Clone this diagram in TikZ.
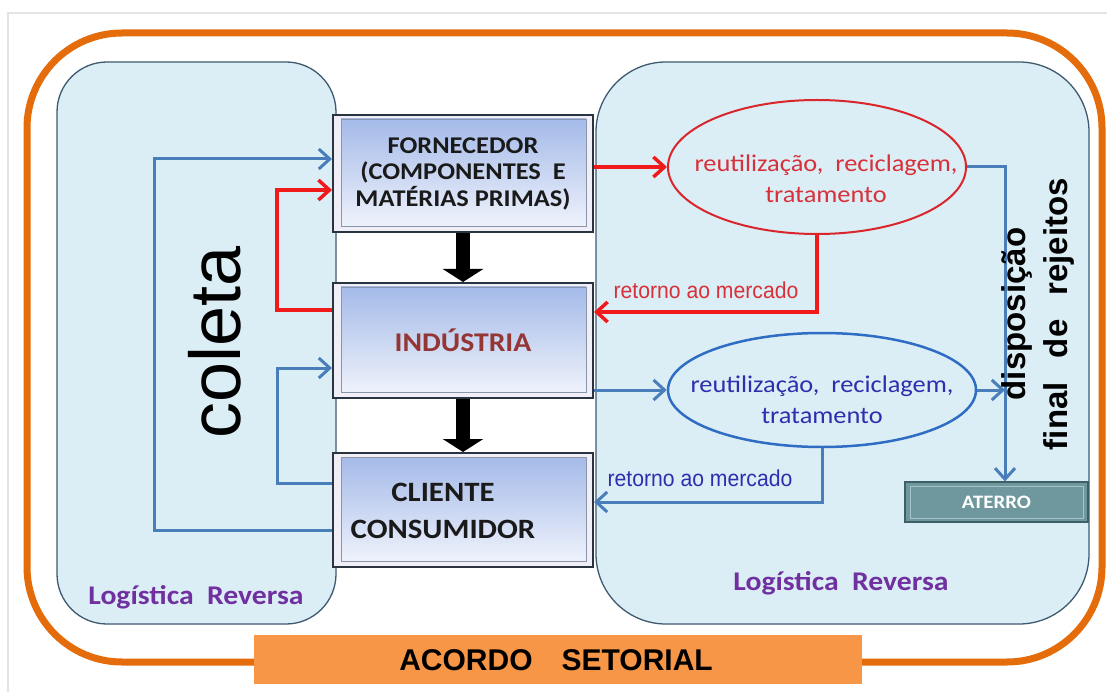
\documentclass[tikz,border=0pt]{standalone}
\usepackage{fontspec}
\setmainfont{Liberation Sans}
\newfontfamily\calfont{Carlito}[FakeStretch=1.1]
\newfontfamily\arialfont{Liberation Sans}
\newfontfamily\narrowfont{Liberation Sans}[FakeStretch=0.92]
\usetikzlibrary{arrows.meta,shapes.geometric}

\definecolor{framegray}{HTML}{E4E4E4}
\definecolor{orangeline}{HTML}{E46C0A}
\definecolor{barfill}{HTML}{F79646}
\definecolor{panelfill}{HTML}{DCEEF5}
\definecolor{panelline}{HTML}{3E5970}
\definecolor{blueline}{HTML}{4A7EBB}
\definecolor{redline}{HTML}{F01A1A}
\definecolor{redell}{HTML}{D9252B}
\definecolor{redtext}{HTML}{D8303A}
\definecolor{blueell}{HTML}{2F6DC4}
\definecolor{bluetext}{HTML}{2E2EAE}
\definecolor{boxedge}{HTML}{2A3440}
\definecolor{boxfill}{HTML}{F0EEF6}
\definecolor{gradtop}{HTML}{A2B8E8}
\definecolor{gradbot}{HTML}{F2F5FC}
\definecolor{innerline}{HTML}{8A96A8}
\definecolor{industria}{HTML}{943634}
\definecolor{purpletext}{HTML}{7030A0}
\definecolor{aterrofill}{HTML}{6E989D}
\definecolor{aterroedge}{HTML}{3F5F66}
\definecolor{aterroinner}{HTML}{A9C4C8}
\definecolor{boxtext}{HTML}{1A1A1A}

\begin{document}
\begin{tikzpicture}[x=1pt,y=-1pt,
  panel/.style={fill=panelfill,draw=panelline,line width=1.3pt},
  procbox/.style={draw=boxedge,line width=2pt,fill=boxfill,
    minimum width=260pt,inner sep=0pt,
    font=\calfont\bfseries\fontsize{24}{26.5}\selectfont,
    text=boxtext,align=center,
    path picture={
      \shadedraw[top color=gradtop,bottom color=gradbot,draw=innerline,line width=0.9pt]
        ([xshift=8pt,yshift=-4pt]path picture bounding box.north west)
        rectangle ([xshift=-7pt,yshift=6pt]path picture bounding box.south east);}},
  bluearr/.style={draw=blueline,line width=3pt,
    -{Straight Barb[length=11pt 0,width=20pt 0]}},
  redarr/.style={draw=redline,line width=3.5pt,
    -{Straight Barb[length=11pt 0,width=20pt 0]}},
  bigarr/.style={draw=black,line width=14pt,
    -{Triangle[length=13pt 0,width=40pt 0]}},
  elltext/.style={font=\calfont\fontsize{24}{31}\selectfont,align=center,inner sep=0pt},
  marketlabel/.style={font=\narrowfont\fontsize{23}{26}\selectfont,inner sep=0pt},
  reversa/.style={font=\calfont\bfseries\fontsize{27}{30}\selectfont,text=purpletext,inner sep=0pt},
  vertlabel/.style={font=\arialfont\bfseries\fontsize{33}{40}\selectfont,rotate=90,anchor=base,inner sep=0pt}
]
\useasboundingbox (0,0) rectangle (1107,692);
\fill[white] (0,0) rectangle (1107,692);
\draw[framegray,line width=1.5pt] (8,692) |- (1107,13);

% outer agreement frame
\draw[orangeline,line width=7pt,rounded corners=95pt] (27,33) rectangle (1102,662);

% reverse logistics panels
\draw[panel,rounded corners=50pt] (57,62) rectangle (336,624);
\draw[panel,rounded corners=70pt] (596,62) rectangle (1089,624);

% supply chain boxes
\node[procbox,minimum height=117pt] (forn) at (463,173.5)
  {FORNECEDOR\\(COMPONENTES\ \ E\\MATÉRIAS PRIMAS)};
\node[procbox,minimum height=115pt,text=industria,font=\calfont\bfseries\fontsize{27}{30}\selectfont]
  (ind) at (463,340.5) {INDÚSTRIA};
\node[procbox,minimum height=114pt] (cli) at (463,510) {};
\node[font=\calfont\bfseries\fontsize{28}{37}\selectfont,text=boxtext,align=center,inner sep=0pt]
  (clitxt) at (443,511) {CLIENTE\\CONSUMIDOR};

% forward flow
\draw[bigarr] (forn.south) -- (ind.north);
\draw[bigarr] (ind.south) -- (cli.north);

% collection loops on the left
\coordinate (loopO) at (154,340);
\coordinate (loopI) at (277,420);
\coordinate (loopR) at (277,250);
\draw[bluearr] ([yshift=-20pt]cli.west) -| (loopO) |- ([yshift=14.5pt]forn.west);
\draw[bluearr] ([yshift=27pt]cli.west) -| (loopI) |- ([yshift=-27.5pt]ind.west);
\draw[redarr] ([yshift=30.5pt]ind.west) -| (loopR) |- ([yshift=-16.5pt]forn.west);

% treatment ellipses
\node[ellipse,draw=redell,line width=2pt,minimum width=298pt,minimum height=134pt,inner sep=0pt]
  (redel) at (817,167) {};
\node[elltext,text=redtext] (redtxt) at (826,179) {reutilização,\ \ reciclagem,\\tratamento};
\node[ellipse,draw=blueell,line width=2.5pt,minimum width=308pt,minimum height=114pt,inner sep=0pt]
  (blueel) at (822,390) {};
\node[elltext,text=bluetext] (bluetxt) at (822,400) {reutilização,\ \ reciclagem,\\tratamento};

\draw[redarr] (forn.east |- redel.west) -- (redel.west);
\draw[redarr] (redel.south) |- ([yshift=28.5pt]ind.east);
\node[marketlabel,text=redtext] (lblR) at (706,290) {retorno ao mercado};

\draw[bluearr] (ind.east |- blueel.west) -- (blueel.west);
\draw[bluearr] (blueel.south) |- ([yshift=8pt]cli.east);
\node[marketlabel,text=bluetext] (lblB) at (700,478) {retorno ao mercado};

% landfill
\node[draw=aterroedge,line width=1.2pt,fill=aterrofill,minimum width=183pt,minimum height=40pt,inner sep=0pt,
  font=\calfont\bfseries\fontsize{19}{20}\selectfont,text=white,
  path picture={\draw[aterroinner,line width=0.8pt]
    ([xshift=5pt,yshift=-4pt]path picture bounding box.north west)
    rectangle ([xshift=-5pt,yshift=4pt]path picture bounding box.south east);}]
  (ater) at (996.5,502) {ATERRO};
\coordinate (dropX) at (1005,0);
\draw[bluearr] (redel.east) -| (dropX |- ater.north);
\draw[bluearr] (blueel.east) -- (dropX |- blueel.east);

% vertical captions
\node[vertlabel] (disp) at (1025,314) {disposição};
\node[vertlabel] (finrej) at (1067,314) {\makebox[272pt][s]{final\hfill de\hfill rejeitos}};
\node[font=\arialfont\fontsize{72}{80}\selectfont,rotate=90,anchor=base,inner sep=0pt]
  (coleta) at (240,342.5) {coleta};

\node[reversa] (logL) at (196,597) {Logística\ \ Reversa};
\node[reversa] (logR) at (841,583) {Logística\ \ Reversa};

% sector agreement bar
\node[fill=barfill,minimum width=608pt,minimum height=49pt,inner sep=0pt] (acordo) at (558,659.5) {};
\node[font=\arialfont\bfseries\fontsize{30}{34}\selectfont,inner sep=0pt] (acordotxt) at (556,660)
  {ACORDO\hspace{29pt}SETORIAL};
\end{tikzpicture}
\end{document}
